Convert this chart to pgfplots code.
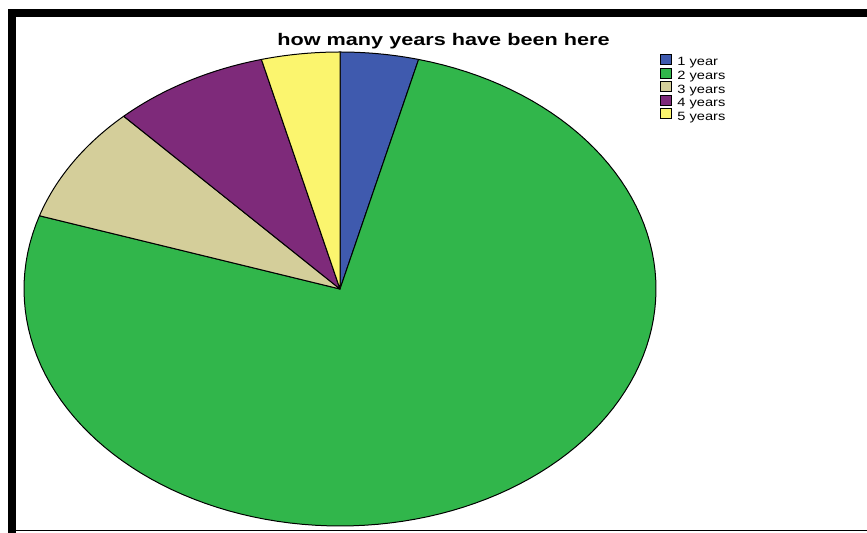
\documentclass[border=0pt]{standalone}
\usepackage{pgfplots}
\usepackage{pgfplotstable}
\usepackage{graphicx}
\usepackage{fontspec}
\setmainfont{Liberation Sans}
\pgfplotsset{compat=1.18}

\definecolor{pc0}{HTML}{3F5AAE}
\definecolor{pc1}{HTML}{31B64B}
\definecolor{pc2}{HTML}{D4CE9A}
\definecolor{pc3}{HTML}{7E2A7A}
\definecolor{pc4}{HTML}{FBF56E}

\pgfplotstableread{
label count
1 1
2 19
3 2
4 2
5 1
}\piedata

\begin{document}
\begin{tikzpicture}[x=0.5pt,y=0.5pt]
% totals and cumulative angles (clockwise from 12 o'clock)
\xdef\total{0}
\foreach \i in {0,...,4}{%
  \pgfplotstablegetelem{\i}{count}\of\piedata
  \pgfmathsetmacro\tmp{\total+\pgfplotsretval}%
  \xdef\total{\tmp}%
}
\xdef\cumul{0}
\foreach \i in {0,...,4}{%
  \pgfplotstablegetelem{\i}{count}\of\piedata
  \pgfmathsetmacro\st{\cumul}%
  \pgfmathsetmacro\en{\cumul+360*\pgfplotsretval/\total}%
  \expandafter\xdef\csname sa\i\endcsname{\st}%
  \expandafter\xdef\csname sb\i\endcsname{\en}%
  \xdef\cumul{\en}%
}
\path[use as bounding box] (0,0) rectangle (867,533);
% frame
\fill[black] (8,524) rectangle (867,516);
\fill[black] (8,524) rectangle (16,0);
\draw[black, line width=0.5pt] (16,2) -- (867,2);

\begin{axis}[scale only axis, width=316pt, height=237pt,
  xmin=-1, xmax=1, ymin=-1, ymax=1, hide axis, clip=false,
  at={(170pt,122pt)}, anchor=center]
\pgfplotsinvokeforeach{0,...,4}{%
  \filldraw[fill=pc#1, draw=black, line width=0.5pt, line join=round]
    (0,0) -- plot[domain=\csname sa#1\endcsname:\csname sb#1\endcsname, samples=120, variable=\t] ({sin(\t)},{cos(\t)}) -- cycle;
}
\end{axis}

% title
\node[anchor=base, inner sep=0pt, font=\bfseries\fontsize{8.4}{10}\selectfont] at (443.5,487) {\scalebox{1.29}[1]{how many years have been here}};

% legend
\foreach \c/\t [count=\k from 0] in {pc0/1 year, pc1/2 years, pc2/3 years, pc3/4 years, pc4/5 years}{%
  \pgfmathsetmacro\yc{533-(59.5+13.6*\k)}%
  \draw[fill=\c, line width=0.5pt] (660,\yc+5) rectangle (671,\yc-5);
  \node[anchor=base west, inner sep=0pt, font=\fontsize{6}{7}\selectfont] at (677,\yc-6.5) {\scalebox{1.22}[1]{\t}};
}
\end{tikzpicture}
\end{document}
